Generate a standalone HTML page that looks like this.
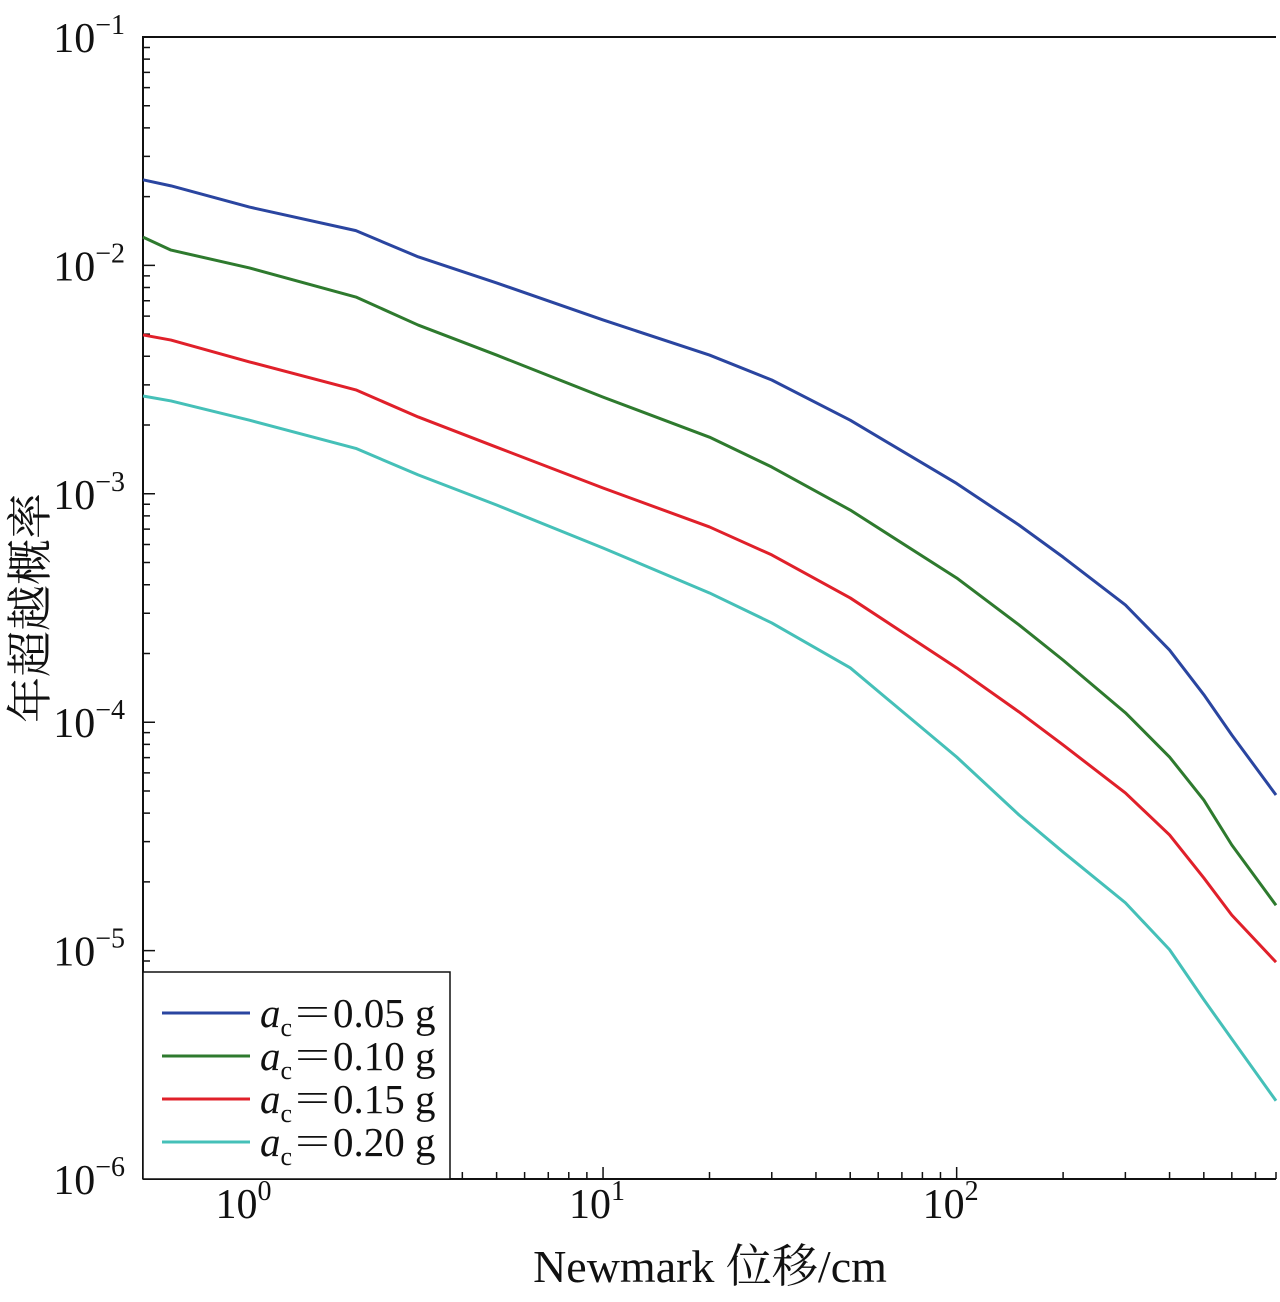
<!DOCTYPE html>
<html><head><meta charset="utf-8"><style>
body{margin:0;background:#fff}
svg text{font-family:"Liberation Serif","Noto Serif CJK SC",serif;fill:#111}
</style></head><body>
<svg id="chart" width="1280" height="1297" xmlns="http://www.w3.org/2000/svg"></svg>
<script>
const xValues=[0.5,0.6,1,2,3,5,10,20,30,50,100,150,200,300,400,500,600,800];
const seriesNames=["0.05","0.10","0.15","0.20"];
const seriesColors=["#2a45a0","#2e7a2e","#e0202a","#45c0b8"];
const blue=[0.0237,0.0223,0.0180,0.0142,0.0109,0.00838,0.00577,0.00405,0.00315,0.00210,0.00111,0.00073,0.000528,0.000326,0.000207,0.000132,0.0000879,0.0000480];
const green=[0.0133,0.01167,0.00975,0.00727,0.00548,0.00405,0.00265,0.00177,0.00131,0.000849,0.000428,0.000267,0.000187,0.000110,0.0000704,0.0000456,0.0000290,0.0000158];
const red=[0.00496,0.00471,0.00378,0.00285,0.00217,0.00160,0.00106,0.000716,0.000540,0.000350,0.000173,0.000111,0.0000795,0.0000490,0.0000321,0.0000208,0.0000143,0.0000089];
const cyan=[0.00268,0.00255,0.00210,0.00158,0.00121,0.000893,0.000579,0.000368,0.000272,0.000173,0.0000704,0.0000393,0.0000270,0.0000162,0.0000101,0.0000061,0.0000041,0.0000022];
const xTickExp=[0,1,2];
const yTickExp=[-1,-2,-3,-4,-5,-6];

const L=143,R=1276,T=37,B=1179,xmin=0.5,xmax=800,ymin=1e-6,ymax=1e-1;
const X=v=>L+(Math.log10(v)-Math.log10(xmin))/(Math.log10(xmax)-Math.log10(xmin))*(R-L);
const Y=v=>B-(Math.log10(v)-Math.log10(ymin))/(Math.log10(ymax)-Math.log10(ymin))*(B-T);
const svg=document.getElementById('chart');
const NS='http://www.w3.org/2000/svg';
function mk(tag,attrs,parent){const e=document.createElementNS(NS,tag);for(const k in attrs)e.setAttribute(k,attrs[k]);(parent||svg).appendChild(e);return e;}

let ax=mk('path',{d:`M${L},${B}V${T}H${R}M${L},${B}H${R}`,stroke:'#111','stroke-width':2,fill:'none'});


let d='';
for(let e=-6;e<=-1;e++){const y=Y(Math.pow(10,e));d+=`M${L},${y}h12`;
 if(e<-1)for(let m=2;m<=9;m++){const yy=Y(m*Math.pow(10,e));d+=`M${L},${yy}h7`;}}
for(let e=-1;e<=2;e++){for(let m=1;m<=9;m++){const v=m*Math.pow(10,e);if(v<xmin||v>xmax)continue;const x=X(v);d+=`M${x},${B}v${m==1?-12:-7}`;}}
let tk=mk('path',{d:d,stroke:'#111','stroke-width':1.5,fill:'none'});


yTickExp.forEach(e=>{const t=mk('text',{x:125,y:Y(Math.pow(10,e))+15,'text-anchor':'end','font-size':42});
 
 
 t.innerHTML=`10<tspan dy="-18" font-size="28">−${-e}</tspan>`;});
xTickExp.forEach(e=>{const t=mk('text',{x:X(Math.pow(10,e))-6,y:1218,'text-anchor':'middle','font-size':42});
 
 
 t.innerHTML=`10<tspan dy="-18" font-size="28">${e}</tspan>`;});
let xt=mk('text',{x:710,y:1282,'text-anchor':'middle','font-size':46});


xt.textContent='Newmark 位移/cm';
let yt=mk('text',{x:0,y:0,'text-anchor':'middle','font-size':46,transform:'translate(46,608) rotate(-90)'});


yt.textContent='年超越概率';
[blue,green,red,cyan].forEach((s,i)=>{
 const p=mk('polyline',{points:s.map((v,j)=>X(xValues[j])+','+Y(v)).join(' '),fill:'none',stroke:seriesColors[i],'stroke-width':3,'stroke-linejoin':'round'});
 
 
});
let lb=mk('rect',{x:143,y:972,width:307,height:207,fill:'#fff',stroke:'#111','stroke-width':1.5});


seriesNames.forEach((n,i)=>{const y=1013+i*43;
 const g=mk('g',{});
 
 
 mk('line',{x1:162,x2:250,y1:y,y2:y,stroke:seriesColors[i],'stroke-width':3},g);
 const t=mk('text',{x:260,y:y+14,'font-size':41},g);
 t.innerHTML=`<tspan font-style="italic">a</tspan><tspan font-size="26" dy="9">c</tspan><tspan dy="-9">＝${n} g</tspan>`;
});
</script>
</body></html>
